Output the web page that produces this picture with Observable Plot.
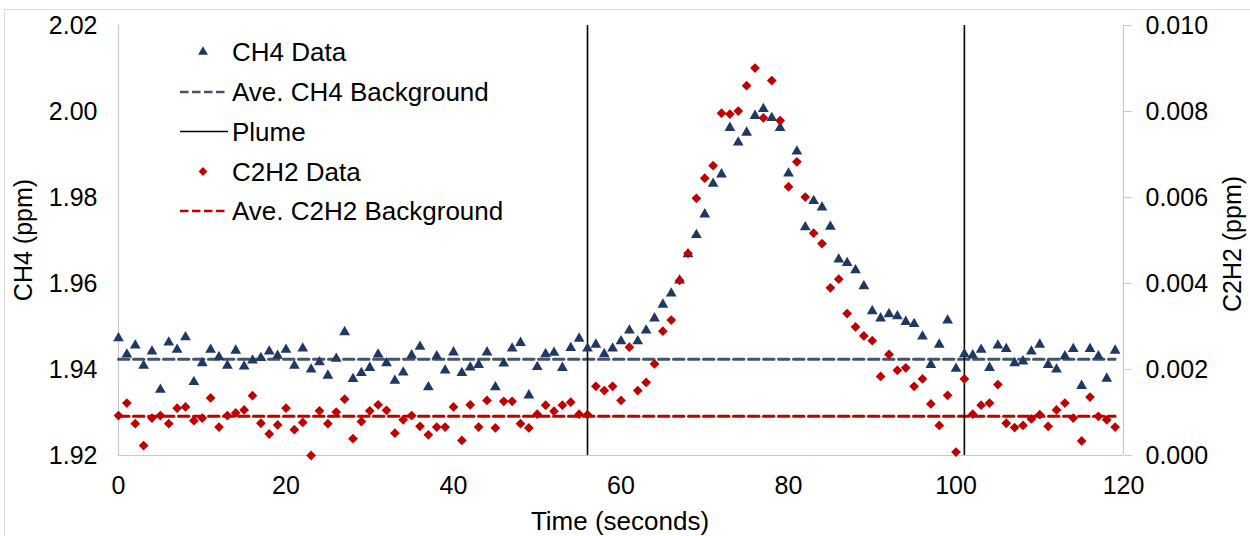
<!DOCTYPE html>
<html><head><meta charset="utf-8">
<script src="https://cdn.jsdelivr.net/npm/d3@7"></script>
<script src="https://cdn.jsdelivr.net/npm/@observablehq/plot@0.6"></script>
<style>
html,body{margin:0;padding:0;background:#fff;overflow:hidden;width:1250px;height:536px;}
#wrap{position:relative;width:1250px;height:536px;font-family:"Liberation Sans",Arial,sans-serif;}
#frame{position:absolute;left:4px;top:9px;width:1300px;height:600px;border:1px solid #d9d9d9;box-sizing:border-box;}
#chart{position:absolute;left:0;top:0;}
#overlay{position:absolute;left:0;top:0;pointer-events:none;}
</style></head>
<body><div id="wrap"><div id="frame"></div><div id="chart"></div></div>
<script>
// ---- data ----
const time = [0,1,2,3,4,5,6,7,8,9,10,11,12,13,14,15,16,17,18,19,20,21,22,23,24,25,26,27,28,29,30,31,32,33,34,35,36,37,38,39,40,41,42,43,44,45,46,47,48,49,50,51,52,53,54,55,56,57,58,59,60,61,62,63,64,65,66,67,68,69,70,71,72,73,74,75,76,77,78,79,80,81,82,83,84,85,86,87,88,89,90,91,92,93,94,95,96,97,98,99,100,101,102,103,104,105,106,107,108,109,110,111,112,113,114,115,116,117,118,119];
const ch4 = [
1.9473,1.9435,1.9456,1.9409,1.9442,1.9353,1.9463,1.9446,1.9475,1.9371,
1.9415,1.9446,1.9429,1.9409,1.9444,1.9407,1.9421,1.9427,1.9442,1.9432,
1.9446,1.9409,1.9449,1.9400,1.9417,1.9386,1.9425,1.9487,1.9378,1.9392,
1.9404,1.9435,1.9415,1.9374,1.9393,1.9433,1.9453,1.9359,1.9431,1.9398,
1.9440,1.9392,1.9405,1.9411,1.9440,1.9359,1.9414,1.9449,1.9462,1.9340,
1.9406,1.9436,1.9439,1.9404,1.9450,1.9472,1.9449,1.9458,1.9436,1.9449,
1.9466,1.9491,1.9466,1.9491,1.9519,1.9551,1.9577,1.9607,1.9668,1.9713,
1.9761,1.9832,1.9854,1.9962,1.9928,1.9951,1.9990,2.0006,1.9985,1.9962,
1.9856,1.9907,1.9731,1.9792,1.9777,1.9732,1.9656,1.9648,1.9631,1.9594,
1.9536,1.9519,1.9529,1.9524,1.9511,1.9506,1.9477,1.9411,1.9458,1.9514,
1.9402,1.9436,1.9433,1.9446,1.9404,1.9456,1.9448,1.9415,1.9419,1.9442,
1.9458,1.9411,1.9400,1.9431,1.9448,1.9362,1.9448,1.9431,1.9379,1.9444];
const c2h2 = [
0.00093,0.00122,0.00074,0.00023,0.00087,0.00093,0.00074,0.00110,0.00113,0.00081,
0.00087,0.00134,0.00066,0.00093,0.00099,0.00106,0.00139,0.00075,0.00050,0.00071,
0.00110,0.00060,0.00077,0.00000,0.00104,0.00074,0.00101,0.00131,0.00039,0.00079,
0.00104,0.00118,0.00105,0.00052,0.00083,0.00093,0.00068,0.00048,0.00066,0.00066,
0.00113,0.00035,0.00118,0.00066,0.00128,0.00064,0.00126,0.00126,0.00074,0.00064,
0.00096,0.00117,0.00103,0.00117,0.00124,0.00096,0.00095,0.00161,0.00151,0.00161,
0.00128,0.00252,0.00151,0.00170,0.00213,0.00289,0.00315,0.00407,0.00470,0.00598,
0.00645,0.00674,0.00796,0.00794,0.00801,0.00860,0.00901,0.00785,0.00872,0.00779,
0.00625,0.00683,0.00601,0.00517,0.00493,0.00390,0.00410,0.00330,0.00299,0.00278,
0.00267,0.00184,0.00235,0.00198,0.00204,0.00161,0.00178,0.00120,0.00070,0.00140,
0.00008,0.00178,0.00096,0.00117,0.00122,0.00165,0.00075,0.00065,0.00070,0.00085,
0.00095,0.00068,0.00106,0.00122,0.00087,0.00034,0.00136,0.00091,0.00083,0.00066];
const ch4Background = 1.9424;
const c2h2Background = 0.00091;
const plumeTimes = [56, 101];
const xTicks = [0, 20, 40, 60, 80, 100, 120];
const ch4Ticks = [1.92, 1.94, 1.96, 1.98, 2.00, 2.02];
const c2h2Ticks = [0.000, 0.002, 0.004, 0.006, 0.008, 0.010];
const legendLabels = ["CH4 Data", "Ave. CH4 Background", "Plume", "C2H2 Data", "Ave. C2H2 Background"];
const xTitle = "Time (seconds)";
const yLeftTitle = "CH4 (ppm)";
const yRightTitle = "C2H2 (ppm)";

// ---- styles ----
const FONT = '"Liberation Sans", Arial, sans-serif';
const navy = "#203864", red = "#C00000", slate = "#44546A", axisGray = "#c9c9c9";

// secondary (C2H2) axis mapped onto the CH4 scale
const c0 = ch4Ticks[0], k = (ch4Ticks[ch4Ticks.length-1] - ch4Ticks[0]) / (c2h2Ticks[c2h2Ticks.length-1] - c2h2Ticks[0]);
const toLeft = v => c0 + (v - c2h2Ticks[0]) * k;

const ch4Data = time.map((t, i) => ({t, v: ch4[i]}));
const c2h2Data = time.map((t, i) => ({t, v: toLeft(c2h2[i])}));
const tFirst = time[0], tLast = time[time.length - 1];
const ch4Bg = [{t: tFirst, v: ch4Background}, {t: tLast, v: ch4Background}];
const c2h2Bg = [{t: tFirst, v: toLeft(c2h2Background)}, {t: tLast, v: toLeft(c2h2Background)}];

const W = 1250, H = 536;
const chart = Plot.plot({
  width: W, height: H,
  marginLeft: 118, marginRight: 127, marginTop: 25, marginBottom: 81,
  style: {fontFamily: FONT, fontSize: "25px", color: "#000", background: "transparent", overflow: "visible"},
  x: {domain: [xTicks[0], xTicks[xTicks.length-1]]},
  y: {domain: [ch4Ticks[0], ch4Ticks[ch4Ticks.length-1]]},
  marks: [
    Plot.ruleY([ch4Ticks[0]], {stroke: axisGray, strokeWidth: 1.2}),
    Plot.ruleX([xTicks[0], xTicks[xTicks.length-1]], {stroke: axisGray, strokeWidth: 1.2}),
    Plot.axisX({ticks: xTicks, tickSize: 0, tickPadding: 21, label: null, tickFormat: d => String(d)}),
    Plot.axisY({ticks: ch4Ticks, anchor: "left", tickSize: 0, tickPadding: 21, label: null, tickFormat: d => d.toFixed(2)}),
    Plot.axisY({ticks: c2h2Ticks.map(toLeft), anchor: "right", tickSize: 8, tickPadding: 14, stroke: axisGray, label: null,
      tickFormat: d => ((d - c0) / k).toFixed(3)}),
    Plot.line(ch4Bg, {x: "t", y: "v", stroke: slate, strokeWidth: 3, strokeDasharray: "10.5,4.5"}),
    Plot.line(c2h2Bg, {x: "t", y: "v", stroke: red, strokeWidth: 3, strokeDasharray: "10.5,4.5"}),
    Plot.ruleX(plumeTimes, {stroke: "#000", strokeWidth: 1.6}),
    Plot.dot(ch4Data, {x: "t", y: "v", symbol: "triangle", r: 4.0, fill: navy, stroke: "none"}),
    Plot.dot(c2h2Data, {x: "t", y: "v", symbol: "diamond2", r: 4.4, fill: red, stroke: "none"})
  ]
});
document.getElementById("chart").appendChild(chart);

// ---- legend and axis titles ----
const ov = d3.select("#wrap").append("svg").attr("id", "overlay")
  .attr("width", W).attr("height", H)
  .style("font-family", FONT).style("font-size", "26px");

const rows = [52, 92, 131.5, 171.5, 211];
const markerX = 203, lineX1 = 180, lineX2 = 228, textX = 232;
legendLabels.forEach((lab, i) => {
  const y = rows[i];
  if (i === 0) ov.append("path").attr("transform", `translate(${markerX},${y})`).attr("d", d3.symbol(d3.symbolTriangle, 42)()).attr("fill", navy);
  if (i === 3) ov.append("path").attr("transform", `translate(${markerX},${y})`).attr("d", d3.symbol(d3.symbolDiamond2, 50)()).attr("fill", red);
  if (i === 1 || i === 4) ov.append("line").attr("x1", lineX1).attr("x2", lineX2).attr("y1", y).attr("y2", y)
      .attr("stroke", i === 1 ? slate : red).attr("stroke-width", 2.5).attr("stroke-dasharray", "8.5,3.5");
  if (i === 2) ov.append("line").attr("x1", lineX1).attr("x2", lineX2).attr("y1", y).attr("y2", y).attr("stroke", "#000").attr("stroke-width", 1.5);
  ov.append("text").attr("x", textX).attr("y", y).attr("dy", "0.35em").text(lab);
});
ov.append("text").attr("x", 620).attr("y", 521).attr("dy", "0.35em").attr("text-anchor", "middle").text(xTitle);
ov.append("text").attr("transform", "translate(23,240) rotate(-90)").attr("dy", "0.35em").attr("text-anchor", "middle").style("font-size", "25px").text(yLeftTitle);
ov.append("text").attr("transform", "translate(1232,244) rotate(-90)").attr("dy", "0.35em").attr("text-anchor", "middle").style("font-size", "25px").text(yRightTitle);
</script>
</body></html>
